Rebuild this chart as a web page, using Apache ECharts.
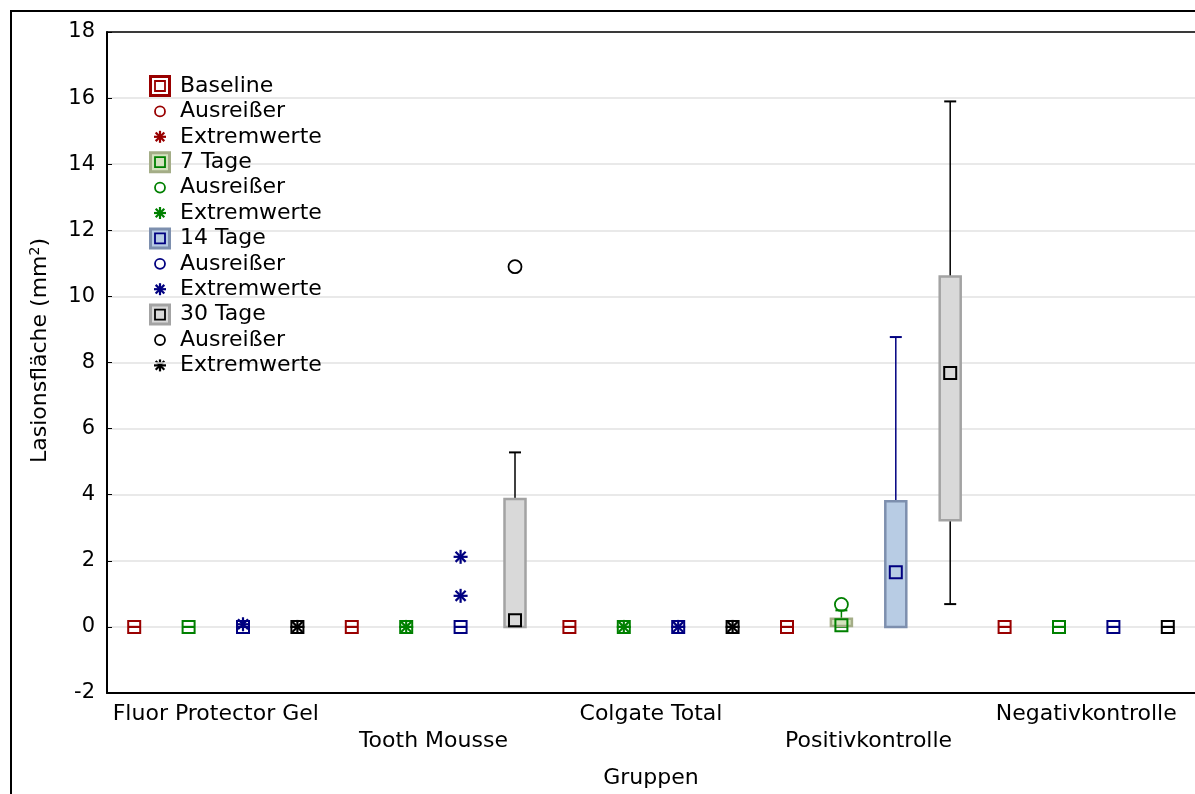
<!DOCTYPE html>
<html><head><meta charset="utf-8">
<script src="https://cdn.jsdelivr.net/npm/echarts@6/dist/echarts.min.js"></script>
<style>html,body{margin:0;padding:0;background:#fff}#c{width:1195px;height:794px}</style>
</head><body><div id="c"></div>
<script>
// ---------------- data ----------------
const categories = ['Fluor Protector Gel', 'Tooth Mousse', 'Colgate Total', 'Positivkontrolle', 'Negativkontrolle'];
const groupNames = ['Baseline', '7 Tage', '14 Tage', '30 Tage'];
const outlierLabel = 'Ausreißer';
const extremeLabel = 'Extremwerte';
const xAxisTitle = 'Gruppen';
const yAxisTitle = 'Lasionsfläche (mm{sup|2})';
const yMin = -2, yMax = 18, yStep = 2;

// box statistics per category: [min, q1, median, q3, max]
const baselineBox = [[0,0,0,0,0],[0,0,0,0,0],[0,0,0,0,0],[0,0,0,0,0],[0,0,0,0,0]];
const tage7Box    = [[0,0,0,0,0],[0,0,0,0,0],[0,0,0,0,0],[0,0.03,0.05,0.25,0.5],[0,0,0,0,0]];
const tage14Box   = [[0,0,0,0,0],[0,0,0,0,0],[0,0,0,0,0],[0,0,1.65,3.8,8.77],[0,0,0,0,0]];
const tage30Box   = [[0,0,0,0,0],[0,0,0.2,3.87,5.28],[0,0,0,0,0],[0.69,3.23,7.68,10.6,15.9],[0,0,0,0,0]];

// outliers / extremes: [categoryIndex, value]
const baselineOutliers = [];
const tage7Outliers    = [[3, 0.68]];
const tage14Outliers   = [];
const tage30Outliers   = [[1, 10.9]];
const baselineExtremes = [];
const tage7Extremes    = [[1, 0], [2, 0]];
const tage14Extremes   = [[0, 0.08], [1, 0.94], [1, 2.12], [2, 0]];
const tage30Extremes   = [[0, 0], [2, 0]];

// ---------------- styles ----------------
const FONT = 'DejaVu Sans';
const styles = [
  { mark: '#990000', fill: '#ffffff', border: '#990000' },
  { mark: '#008000', fill: '#d5e3bf', border: '#a4ad87' },
  { mark: '#000080', fill: '#b8cce4', border: '#7d8fae' },
  { mark: '#000000', fill: '#d9d9d9', border: '#a3a3a3' }
];
const boxes = [baselineBox, tage7Box, tage14Box, tage30Box];
const outliers = [baselineOutliers, tage7Outliers, tage14Outliers, tage30Outliers];
const extremes = [baselineExtremes, tage7Extremes, tage14Extremes, tage30Extremes];

function slotX(api, ci, slot) {
  const w = api.size([1, 0])[0];
  return api.coord([ci, 0])[0] + (slot - 1.5) * w / 4;
}

function boxRender(slot, st) {
  return function (params, api) {
    const ci = api.value(0);
    const x = slotX(api, ci, slot);
    const y = i => api.coord([ci, api.value(i)])[1];
    const yMn = y(1), yQ1 = y(2), yMd = y(3), yQ3 = y(4), yMx = y(5);
    const bw = 21, cw = 12, ms = 12;
    const ls = { stroke: st.mark, lineWidth: 1.5 };
    const ch = [];
    if (yMn - yQ1 > 0.5) ch.push({ type: 'line', shape: { x1: x, y1: yMn, x2: x, y2: yQ1 }, style: ls });
    if (yQ3 - yMx > 0.5) ch.push({ type: 'line', shape: { x1: x, y1: yQ3, x2: x, y2: yMx }, style: ls });
    ch.push({ type: 'line', shape: { x1: x - cw / 2, y1: yMn, x2: x + cw / 2, y2: yMn }, style: { stroke: st.mark, lineWidth: 2 } });
    ch.push({ type: 'line', shape: { x1: x - cw / 2, y1: yMx, x2: x + cw / 2, y2: yMx }, style: { stroke: st.mark, lineWidth: 2 } });
    if (yQ1 - yQ3 > 1) ch.push({ type: 'rect', shape: { x: x - bw / 2, y: yQ3, width: bw, height: yQ1 - yQ3 }, style: { fill: st.fill, stroke: st.border, lineWidth: 2.5 } });
    ch.push({ type: 'rect', shape: { x: x - ms / 2, y: yMd - ms / 2, width: ms, height: ms }, style: { fill: null, stroke: st.mark, lineWidth: 2 } });
    return { type: 'group', children: ch };
  };
}

function circleShape(x, y, color, r) {
  return { type: 'circle', shape: { cx: x, cy: y, r: r }, style: { fill: null, stroke: color, lineWidth: 1.8 } };
}
function starShape(x, y, color, s) {
  const h = s / 2, d = h * 0.72;
  const st = { stroke: color, lineWidth: 2.2 };
  return { type: 'group', children: [
    { type: 'line', shape: { x1: x, y1: y - h, x2: x, y2: y + h }, style: st },
    { type: 'line', shape: { x1: x - h, y1: y, x2: x + h, y2: y }, style: st },
    { type: 'line', shape: { x1: x - d, y1: y - d, x2: x + d, y2: y + d }, style: st },
    { type: 'line', shape: { x1: x - d, y1: y + d, x2: x + d, y2: y - d }, style: st }
  ] };
}

function pointRender(slot, color, kind) {
  return function (params, api) {
    const ci = api.value(0);
    const x = slotX(api, ci, slot);
    const y = api.coord([ci, api.value(1)])[1];
    return kind === 'o' ? circleShape(x, y, color, 6.5) : starShape(x, y, color, 14);
  };
}

const series = [];
groupNames.forEach((g, k) => {
  series.push({
    type: 'custom', name: g, renderItem: boxRender(k, styles[k]),
    encode: { x: 0, y: [1, 2, 3, 4, 5] },
    data: boxes[k].map((b, i) => [i].concat(b)), z: 2
  });
  series.push({
    type: 'custom', name: g + ' ' + outlierLabel, renderItem: pointRender(k, styles[k].mark, 'o'),
    encode: { x: 0, y: 1 }, data: outliers[k], z: 3
  });
  series.push({
    type: 'custom', name: g + ' ' + extremeLabel, renderItem: pointRender(k, styles[k].mark, '*'),
    encode: { x: 0, y: 1 }, data: extremes[k], z: 3
  });
});

// ---------------- legend (graphic) ----------------
const graphic = [
  { type: 'rect', silent: true, z: 100, shape: { x: 11, y: 11, width: 1200, height: 800 }, style: { fill: null, stroke: '#000', lineWidth: 2 } }
];
const lx = 160, ltx = 180, ly0 = 86, lstep = 25.4;
groupNames.forEach((g, k) => {
  const st = styles[k];
  const r0 = ly0 + k * 3 * lstep;
  graphic.push({ type: 'rect', silent: true, z: 100, shape: { x: lx - 9.5, y: r0 - 9.5, width: 19, height: 19 }, style: { fill: st.fill, stroke: st.border, lineWidth: 3 } });
  graphic.push({ type: 'rect', silent: true, z: 101, shape: { x: lx - 5, y: r0 - 5, width: 10, height: 10 }, style: { fill: null, stroke: st.mark, lineWidth: 1.8 } });
  graphic.push(Object.assign(circleShape(lx, r0 + lstep, st.mark, 5), { silent: true, z: 100 }));
  graphic.push(Object.assign(starShape(lx, r0 + 2 * lstep, st.mark, 12), { silent: true, z: 100 }));
  [g, outlierLabel, extremeLabel].forEach((t, j) => {
    graphic.push({ type: 'text', silent: true, z: 100, x: ltx, y: r0 + j * lstep,
      style: { text: t, fill: '#000', font: '22px "' + FONT + '"', textVerticalAlign: 'middle', textAlign: 'left' } });
  });
});

const chart = echarts.init(document.getElementById('c'), null, { renderer: 'canvas' });
chart.setOption({
  animation: false,
  backgroundColor: '#fff',
  textStyle: { fontFamily: FONT },
  grid: { left: 107, right: -3, top: 32, bottom: 97, show: false },
  xAxis: [{
    type: 'category', data: categories, boundaryGap: true, position: 'bottom',
    axisLine: { onZero: false, lineStyle: { color: '#000', width: 2 } },
    axisTick: { alignWithLabel: true, inside: true, length: 5, lineStyle: { color: '#000', width: 1 } },
    axisLabel: { interval: 0, fontSize: 22, color: '#000', fontFamily: FONT, margin: 8, lineHeight: 27,
      formatter: (v, i) => (i % 2 ? '\n' + v : v) },
    splitLine: { show: false },
    name: xAxisTitle, nameLocation: 'middle', nameGap: 74,
    nameTextStyle: { fontSize: 22, color: '#000', fontFamily: FONT }
  }, {
    type: 'category', data: categories, boundaryGap: true, position: 'top',
    axisLine: { onZero: false, lineStyle: { color: '#000', width: 1.5 } },
    axisTick: { show: false }, axisLabel: { show: false }, splitLine: { show: false }
  }],
  yAxis: {
    type: 'value', min: yMin, max: yMax, interval: yStep,
    axisLine: { show: true, onZero: false, lineStyle: { color: '#000', width: 2 } },
    axisTick: { show: true, inside: true, length: 5, lineStyle: { color: '#000', width: 1 } },
    axisLabel: { fontSize: 21, color: '#000', fontFamily: FONT, margin: 12 },
    splitLine: { show: true, lineStyle: { color: '#e2e2e2', width: 1.5 } },
    name: yAxisTitle, nameLocation: 'middle', nameGap: 55, nameRotate: 90,
    nameTextStyle: { fontSize: 22, color: '#000', fontFamily: FONT, padding: [0, 0, 0, 24],
      rich: { sup: { fontSize: 14, fontFamily: FONT, color: '#000', padding: [0, 0, 10, 0] } } }
  },
  series: series,
  graphic: graphic
});
</script>
</body></html>
